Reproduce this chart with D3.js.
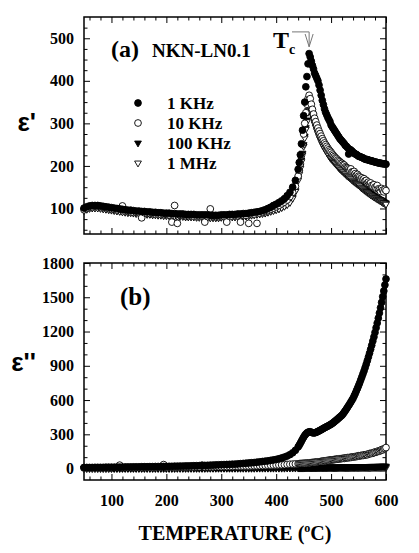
<!DOCTYPE html>
<html>
<head>
<meta charset="utf-8">
<script src="https://cdn.jsdelivr.net/npm/d3@7"></script>
<style>
  body { margin: 0; background: #fff; }
  svg { display: block; }
</style>
</head>
<body>
<script>
// temperatures (deg C): 5 degree steps to 435, then 2 degree steps
const temps = [
  50,55,60,65,70,75,80,85,90,95,
  100,105,110,115,120,125,130,135,140,145,
  150,155,160,165,170,175,180,185,190,195,
  200,205,210,215,220,225,230,235,240,245,
  250,255,260,265,270,275,280,285,290,295,
  300,305,310,315,320,325,330,335,340,345,
  350,355,360,365,370,375,380,385,390,395,
  400,405,410,415,420,425,430,435,
  440,442,444,446,448,450,452,454,456,458,
  460,462,464,466,468,470,472,474,476,478,
  480,482,484,486,488,490,492,494,496,498,
  500,502,504,506,508,510,512,514,516,518,
  520,522,524,526,528,530,532,534,536,538,
  540,542,544,546,548,550,552,554,556,558,
  560,562,564,566,568,570,572,574,576,578,
  580,582,584,586,588,590,592,594,596,598,
  600
];

// (a) eps'
const eps1k = [
  101,104,106,107,107,107,106,105,104,103,
  102,101,100,99,98,97,96,96,95,94,
  94,93,93,92,92,91,91,90,90,89,
  89,89,88,88,87,87,87,86,86,86,
  86,85,85,85,85,85,84,84,84,84,
  85,85,85,86,86,86,87,87,88,88,
  89,90,91,92,93,95,97,100,103,107,
  110,114,118,123,130,138,150,166,
  192,208,226,252,284,318,350,386,410,440,
  464,456,446,436,428,418,412,406,400,390,
  378,366,354,344,334,326,320,314,309,304,
  296,292,288,284,280,276,272,268,264,261,
  258,255,252,248,246,243,228,239,237,235,
  232,230,228,227,225,223,222,221,220,219,
  217,216,215,215,214,213,212,212,211,210,
  209,209,208,207,207,206,206,205,205,205,
  204
];
const eps10k = [
  97,100,103,104,105,106,104,103,102,100,
  99,98,97,100,106,94,93,92,91,91,
  90,78,90,89,88,88,87,87,86,86,
  86,85,68,107,65,84,84,83,83,83,
  82,82,82,82,68,81,99,81,81,81,
  81,81,68,82,82,83,83,68,84,84,
  65,86,87,65,89,91,93,95,98,101,
  104,107,111,115,120,128,138,152,
  176,190,205,225,250,275,300,325,345,358,
  366,358,345,333,322,312,304,296,289,282,
  276,270,264,259,254,250,246,242,238,235,
  232,228,225,222,219,217,214,212,210,207,
  206,203,202,198,196,195,193,190,193,186,
  186,187,182,178,180,176,174,170,172,168,
  170,165,166,160,162,158,160,154,152,156,
  150,148,154,146,144,140,147,143,139,145,
  142
];
const eps100k = [
  96,99,101,102,102,102,101,100,99,98,
  97,96,95,94,93,92,91,91,90,89,
  89,88,88,87,87,86,86,85,85,84,
  84,84,83,83,82,82,82,81,81,81,
  81,80,80,80,80,80,79,79,79,79,
  80,80,80,81,81,81,82,82,83,83,
  84,85,86,87,88,89,90,92,94,96,
  98,100,103,106,110,116,126,142,
  170,184,198,214,230,250,270,290,308,330,
  348,343,333,322,312,303,295,287,280,273,
  266,260,254,249,244,240,236,231,227,223,
  220,217,214,211,208,205,202,199,196,194,
  191,189,186,184,181,179,177,175,173,170,
  168,166,164,162,160,158,156,153,151,149,
  147,145,143,141,139,137,135,134,132,130,
  129,127,125,124,122,121,119,117,116,114,
  113
];
const eps1M = [
  95,98,100,101,101,101,100,99,98,97,
  96,95,94,93,92,91,90,90,89,88,
  88,87,87,86,86,85,85,84,84,83,
  83,83,82,82,81,81,81,80,80,80,
  80,79,79,79,79,79,78,78,78,78,
  79,79,79,80,80,80,81,81,82,82,
  83,84,85,86,87,88,89,91,93,95,
  97,99,102,105,109,114,124,140,
  166,180,194,210,226,246,266,286,304,326,
  342,338,328,318,308,299,291,283,276,269,
  263,257,251,246,241,237,233,228,224,220,
  217,214,211,208,205,202,199,196,193,191,
  188,186,183,181,178,176,174,172,170,167,
  165,163,161,159,157,155,153,150,148,146,
  144,142,140,138,136,134,132,131,129,127,
  126,124,122,121,119,118,116,114,113,111,
  110
];

// (b) eps''
const loss1k = [
  10,10,10,10,11,11,11,11,12,12,
  12,12,13,13,13,14,14,14,15,15,
  15,16,16,16,17,17,18,18,18,19,
  19,20,20,21,21,22,22,23,23,24,
  25,25,26,27,28,29,30,31,32,33,
  34,35,36,37,38,39,41,43,45,47,
  49,51,53,56,59,62,65,68,72,76,
  80,86,93,101,110,122,138,160,
  190,205,222,240,258,275,290,302,312,318,
  322,322,318,314,312,313,316,320,325,330,
  335,340,346,352,357,362,367,372,377,383,
  388,395,402,410,418,426,434,443,451,460,
  468,481,494,508,522,537,552,567,583,599,
  615,636,657,680,702,726,750,776,802,829,
  855,884,914,945,977,1010,1044,1079,1116,1153,
  1192,1233,1274,1317,1362,1408,1455,1505,1555,1608,
  1660
];
const loss10k = [
  5,5,6,5,6,6,6,7,7,7,
  7,8,8,30,8,8,8,9,9,9,
  9,9,10,10,10,10,11,11,11,35,
  11,12,12,12,12,13,13,13,14,14,
  14,15,15,30,15,16,16,16,17,17,
  17,18,18,19,19,20,20,21,21,22,
  22,23,24,24,25,26,27,28,29,30,
  31,32,33,34,36,38,39,41,
  42,43,44,44,45,46,46,47,48,49,
  50,51,52,53,54,55,56,57,59,60,
  61,63,64,65,67,68,70,71,73,74,
  75,77,78,79,81,82,83,85,86,87,
  88,90,89,93,94,96,95,98,97,101,
  103,102,106,105,108,112,110,114,116,114,
  120,118,123,121,128,132,130,136,134,140,
  146,143,150,154,152,160,166,163,172,176,
  184
];
const loss100k = [
  2,2,2,2,2,2,2,2,2,2,
  2,2,2,2,3,3,3,3,3,3,
  3,3,3,3,3,3,3,3,3,3,
  3,3,3,3,4,4,4,4,4,4,
  4,4,4,4,4,4,4,4,5,5,
  5,5,5,5,5,5,5,6,6,6,
  6,6,6,6,7,7,7,7,7,8,
  8,8,8,9,9,9,10,10,
  10,10,10,10,10,11,11,11,11,11,
  11,11,12,12,12,12,12,12,12,12,
  12,13,13,13,13,13,13,13,13,14,
  14,14,14,14,14,14,14,14,15,15,
  15,15,15,15,15,15,16,16,16,16,
  16,16,16,17,17,17,17,17,17,18,
  18,18,18,18,18,19,19,19,19,19,
  19,19,20,20,20,20,20,21,21,21,
  21
];
const loss1M = [
  1,1,1,1,1,1,1,1,1,1,
  1,1,1,1,1,1,1,1,1,1,
  1,1,1,1,1,1,1,1,1,1,
  1,1,1,1,1,1,1,1,1,1,
  1,1,1,1,1,2,2,2,2,2,
  2,2,2,2,2,2,2,2,2,2,
  2,2,2,3,3,3,3,3,3,3,
  3,3,3,3,4,4,4,4,
  4,4,4,4,4,4,5,5,5,5,
  5,5,5,5,5,5,5,5,5,5,
  6,6,6,6,6,6,6,6,6,6,
  6,6,6,6,6,6,7,7,7,7,
  7,7,7,7,7,7,7,7,7,7,
  7,7,8,8,8,8,8,8,8,8,
  8,8,8,8,8,8,8,9,9,9,
  9,9,9,9,9,9,9,9,9,9,
  9
];

const freqLabels = ["1 KHz", "10 KHz", "100 KHz", "1 MHz"];
const xTicks = [100, 200, 300, 400, 500, 600];
const yTicksTop = [100, 200, 300, 400, 500];
const yTicksBottom = [0, 300, 600, 900, 1200, 1500, 1800];

const width = 419;
const height = 553;
const left = 84, right = 386;
const serif = '"Liberation Serif", "Times New Roman", serif';

const svg = d3.select("body").append("svg")
  .attr("width", width)
  .attr("height", height);

const x = d3.scaleLinear().domain([50, 600]).range([left, right]);
const yTop = d3.scaleLinear().domain([40, 550]).range([234, 17]);
const yBot = d3.scaleLinear().domain([-100, 1800]).range([480, 263]);

// marker styles, same order as freqLabels
const styles = [
  { type: d3.symbolCircle, size: 36, fill: "#000", rot: 0 },
  { type: d3.symbolCircle, size: 36, fill: "#fff", rot: 0 },
  { type: d3.symbolTriangle, size: 20, fill: "#000", rot: 180 },
  { type: d3.symbolTriangle, size: 20, fill: "#fff", rot: 180 }
];

function drawFrame(y, majorY, minorY, labelsX) {
  const top = y.range()[1], bottom = y.range()[0];
  const minorX = d3.range(60, 600, 20).filter(v => v % 100 !== 0);

  const sides = [
    [d3.axisBottom, x, `translate(0,${bottom})`, xTicks, minorX],
    [d3.axisTop, x, `translate(0,${top})`, xTicks, minorX],
    [d3.axisLeft, y, `translate(${left},0)`, majorY, minorY],
    [d3.axisRight, y, `translate(${right},0)`, majorY, minorY]
  ];
  sides.forEach(([axisFn, scale, tr, major, minor]) => {
    svg.append("g").attr("transform", tr)
      .call(axisFn(scale).tickValues(major).tickSize(-6).tickFormat(""))
      .call(g => g.select(".domain").remove());
    svg.append("g").attr("transform", tr)
      .call(axisFn(scale).tickValues(minor).tickSize(-3.5).tickFormat(""))
      .call(g => g.select(".domain").remove());
  });

  // y labels
  svg.append("g").attr("transform", `translate(${left},0)`)
    .call(d3.axisLeft(y).tickValues(majorY).tickSize(0).tickPadding(10).tickFormat(d3.format("d")))
    .call(g => g.select(".domain").remove())
    .call(g => g.selectAll("text")
      .attr("font-family", serif).attr("font-weight", "bold")
      .attr("font-size", 16).attr("fill", "#000"));

  if (labelsX) {
    svg.append("g").attr("transform", `translate(0,${bottom})`)
      .call(d3.axisBottom(x).tickValues(xTicks).tickSize(0).tickPadding(15).tickFormat(d3.format("d")))
      .call(g => g.select(".domain").remove())
      .call(g => g.selectAll("text")
        .attr("font-family", serif).attr("font-weight", "bold")
        .attr("font-size", 16).attr("fill", "#000"));
  }

  svg.selectAll(".tick line").attr("stroke", "#000").attr("stroke-width", 1);

  svg.append("rect")
    .attr("x", left).attr("y", top)
    .attr("width", right - left).attr("height", bottom - top)
    .attr("fill", "none").attr("stroke", "#000").attr("stroke-width", 1.5);
}

function plotSeries(y, values, st) {
  const sym = d3.symbol().type(st.type).size(st.size);
  svg.append("g")
    .selectAll("path")
    .data(values.map((v, i) => [temps[i], v]))
    .join("path")
    .attr("d", sym)
    .attr("transform", d => `translate(${x(d[0])},${y(d[1])}) rotate(${st.rot})`)
    .attr("fill", st.fill)
    .attr("stroke", "#000")
    .attr("stroke-width", 0.9);
}

// panel (a)  (paint order: 100 KHz, 1 MHz, 10 KHz, 1 KHz on top)
drawFrame(yTop, yTicksTop, d3.range(50, 550, 25).filter(v => v % 100 !== 0), false);
const seriesTop = [eps1k, eps10k, eps100k, eps1M];
[2, 3, 1, 0].forEach(i => plotSeries(yTop, seriesTop[i], styles[i]));

// panel (b)  (paint order: 1 MHz, 100 KHz, 10 KHz, 1 KHz on top)
drawFrame(yBot, yTicksBottom, d3.range(100, 1800, 100).filter(v => v % 300 !== 0), true);
const seriesBot = [loss1k, loss10k, loss100k, loss1M];
[3, 2, 1, 0].forEach(i => plotSeries(yBot, seriesBot[i], styles[i]));

// legend
const legend = svg.append("g");
freqLabels.forEach((lab, i) => {
  const ly = 103 + i * 20;
  const st = styles[i];
  legend.append("path")
    .attr("d", d3.symbol().type(st.type).size(st.size)())
    .attr("transform", `translate(138,${ly}) rotate(${st.rot})`)
    .attr("fill", st.fill).attr("stroke", "#000").attr("stroke-width", 0.9);
  legend.append("text")
    .attr("x", 167).attr("y", ly + 6)
    .attr("font-family", serif).attr("font-weight", "bold").attr("font-size", 17)
    .text(lab);
});

// panel titles
svg.append("text").attr("x", 111).attr("y", 57)
  .attr("font-family", serif).attr("font-weight", "bold").attr("font-size", 24)
  .text("(a)");
svg.append("text").attr("x", 152).attr("y", 57)
  .attr("font-family", serif).attr("font-weight", "bold").attr("font-size", 19)
  .text("NKN-LN0.1");
svg.append("text").attr("x", 120).attr("y", 305)
  .attr("font-family", serif).attr("font-weight", "bold").attr("font-size", 25)
  .text("(b)");

// Tc marker
const tc = svg.append("text").attr("x", 273).attr("y", 48)
  .attr("font-family", serif).attr("font-weight", "bold").attr("font-size", 24);
tc.append("tspan").text("T");
tc.append("tspan").attr("font-size", 14).attr("dy", 6).text("c");
const px = x(460);
svg.append("path")
  .attr("d", `M292,${yTop(515)}H${px}V${yTop(480)}M${px - 4},${yTop(510)}L${px},${yTop(480)}L${px + 4},${yTop(510)}`)
  .attr("fill", "none").attr("stroke", "#777").attr("stroke-width", 1);

// y titles
svg.append("text").attr("x", 36).attr("y", 131).attr("text-anchor", "end")
  .attr("font-family", '"Liberation Sans", Arial, sans-serif').attr("font-weight", "bold")
  .attr("font-size", 26).text("\u03b5'");
svg.append("text").attr("x", 36).attr("y", 371).attr("text-anchor", "end")
  .attr("font-family", '"Liberation Sans", Arial, sans-serif').attr("font-weight", "bold")
  .attr("font-size", 26).text("\u03b5''");

// x title
const xt = svg.append("text").attr("x", 235).attr("y", 540).attr("text-anchor", "middle")
  .attr("font-family", serif).attr("font-weight", "bold").attr("font-size", 20);
xt.append("tspan").text("TEMPERATURE (");
xt.append("tspan").attr("font-size", 12).attr("dy", -8).text("o");
xt.append("tspan").attr("dy", 8).text("C)");
</script>
</body>
</html>
